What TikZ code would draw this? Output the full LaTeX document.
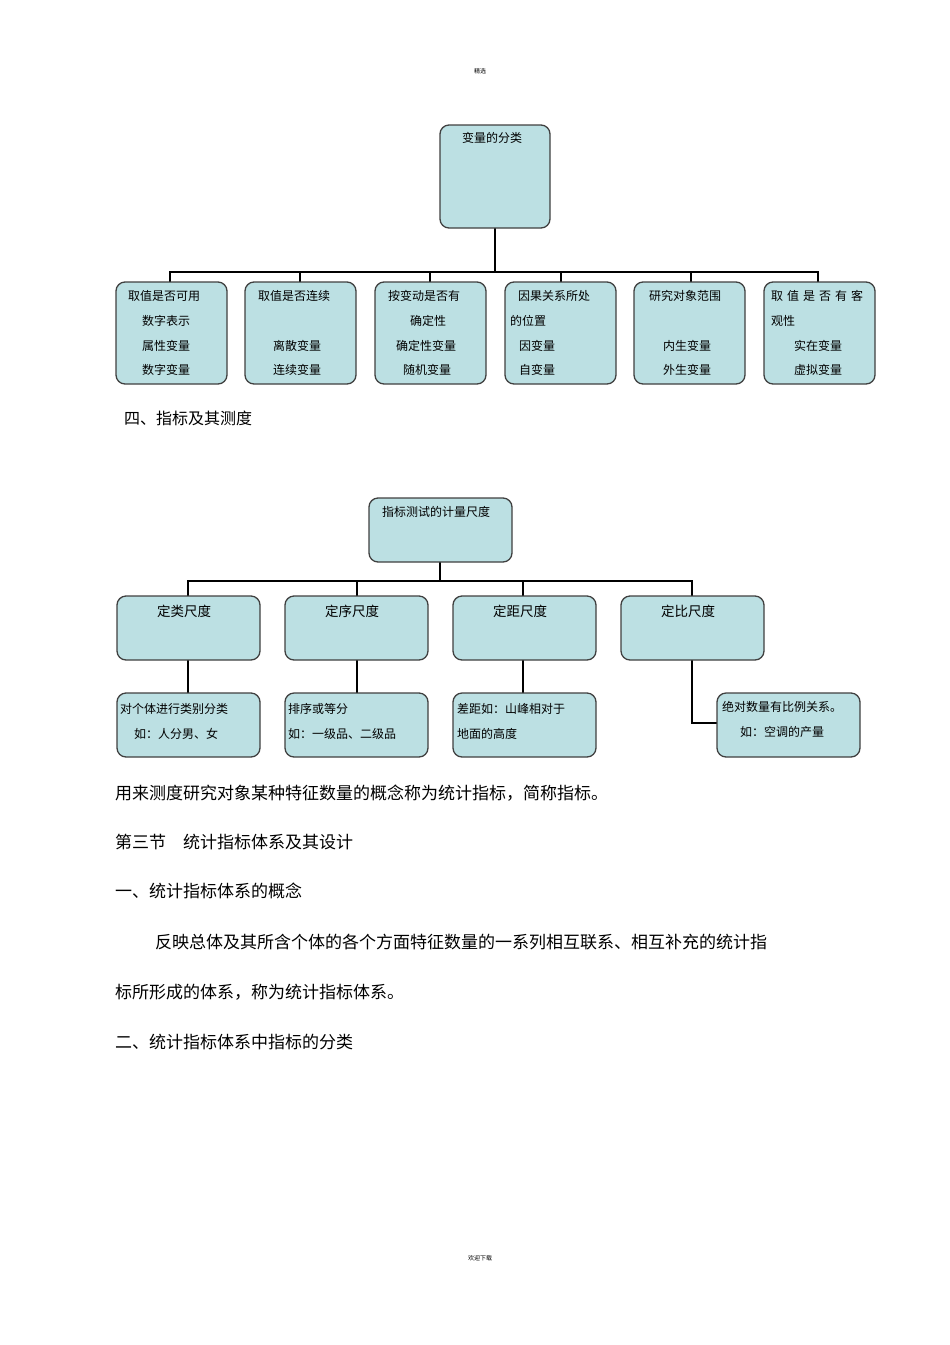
\documentclass[tikz,border=0pt]{standalone}
\usepackage{fontspec}
\setmainfont{Noto Sans CJK SC}
\begin{document}
\begin{tikzpicture}[x=1pt,y=-1pt,
 bx/.style={draw=black!75,line width=1.3pt,rounded corners=9pt,fill=boxc},
 ln/.style={line width=2.6pt,black},
 t/.style={font=\fontsize{12}{12}\selectfont,anchor=west,inner sep=0},
 tc/.style={font=\fontsize{12}{12}\selectfont,inner sep=0},
 body/.style={font=\fontsize{17}{17}\selectfont,anchor=west,inner sep=0}]
\definecolor{boxc}{HTML}{BCE0E3}
\useasboundingbox (0,0) rectangle (950,1345);
\node[font=\fontsize{6}{6}\selectfont] (h) at (480,71) {精选};
\node[font=\fontsize{6}{6}\selectfont] (f) at (480,1258) {欢迎下载};
% top tree
\draw[ln] (495,228) -- (495,272);
\draw[ln] (170,282) -- (170,272) -- (818,272) -- (818,282);
\foreach \x in {300,430,561,691} \draw[ln] (\x,272) -- (\x,282);
\node[bx,minimum width=110pt,minimum height=103pt] (root) at (495,176.5) {};
\node[tc] (roott) at (492,138) {变量的分类};
\foreach \a/\n in {116/b1,245/b2,375/b3,505/b4,634/b5,764/b6}
  \node[bx,minimum width=111pt,minimum height=102pt] (\n) at (\a+55.5,333) {};
\node[t] at (128,296) {取值是否可用};
\node[t] at (142,321) {数字表示};
\node[t] at (142,346) {属性变量};
\node[t] at (142,370) {数字变量};
\node[t] at (258,296) {取值是否连续};
\node[t] at (273,346) {离散变量};
\node[t] at (273,370) {连续变量};
\node[t] at (388,296) {按变动是否有};
\node[t] at (410,321) {确定性};
\node[t] at (396,346) {确定性变量};
\node[t] at (403,370) {随机变量};
\node[t] at (518,296) {因果关系所处};
\node[t] at (510,321) {的位置};
\node[t] at (519,346) {因变量};
\node[t] at (519,370) {自变量};
\node[t] at (649,296) {研究对象范围};
\node[t] at (663,346) {内生变量};
\node[t] at (663,370) {外生变量};
\node[t] at (771,296) {取\,\,值\,\,是\,\,否\,\,有\,\,客};
\node[t] at (771,321) {观性};
\node[t] at (794,346) {实在变量};
\node[t] at (794,370) {虚拟变量};
\node[body,font=\fontsize{16}{16}\selectfont] at (124,418) {四、指标及其测度};
% second tree
\draw[ln] (440,562) -- (440,581);
\draw[ln] (188,596) -- (188,581) -- (692,581) -- (692,596);
\foreach \x in {357,523} \draw[ln] (\x,581) -- (\x,596);
\foreach \x in {188,357,523} \draw[ln] (\x,660) -- (\x,693);
\draw[ln] (692,660) -- (692,723) -- (717,723);
\node[bx,minimum width=143pt,minimum height=64pt] (m) at (440.5,530) {};
\node[tc] at (436,512) {指标测试的计量尺度};
\foreach \a/\n/\s in {117/c1/定类尺度,285/c2/定序尺度,453/c3/定距尺度,621/c4/定比尺度}{
  \node[bx,minimum width=143pt,minimum height=64pt] (\n) at (\a+71.5,628) {};
  \node[font=\fontsize{13.5}{13.5}\selectfont,inner sep=0] at (\a+67,611) {\s};}
\foreach \a/\n in {117/d1,285/d2,453/d3,717/d4}
  \node[bx,minimum width=143pt,minimum height=64pt] (\n) at (\a+71.5,725) {};
\node[t] at (120,709) {对个体进行类别分类};
\node[t] at (134,734) {如：人分男、女};
\node[t] at (288,709) {排序或等分};
\node[t] at (288,734) {如：一级品、二级品};
\node[t] at (457,709) {差距如：山峰相对于};
\node[t] at (457,734) {地面的高度};
\node[t] at (722,707) {绝对数量有比例关系。};
\node[t] at (740,732) {如：空调的产量};
% body text
\node[body] at (115,793) {用来测度研究对象某种特征数量的概念称为统计指标，简称指标。};
\node[body] at (115,842) {第三节\quad 统计指标体系及其设计};
\node[body] at (115,891) {一、统计指标体系的概念};
\node[body] at (155,942) {反映总体及其所含个体的各个方面特征数量的一系列相互联系、相互补充的统计指};
\node[body] at (115,992) {标所形成的体系，称为统计指标体系。};
\node[body] at (115,1042) {二、统计指标体系中指标的分类};
\end{tikzpicture}
\end{document}
